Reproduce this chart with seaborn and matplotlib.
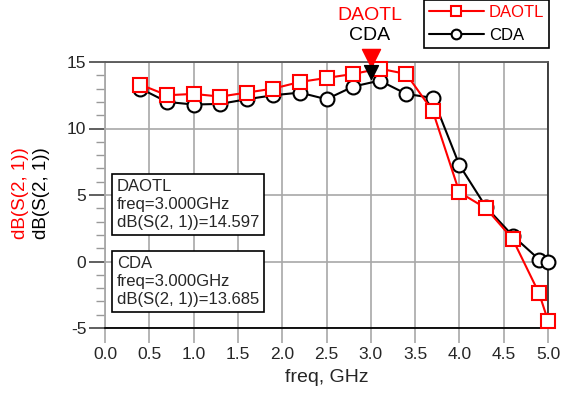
import numpy as np
import pandas as pd
import matplotlib
matplotlib.use("Agg")
import matplotlib.pyplot as plt
import seaborn as sns
from matplotlib.ticker import MultipleLocator, FormatStrFormatter
from matplotlib.path import Path

# S21 sweep
freq = [0.4, 0.7, 1.0, 1.3, 1.6, 1.9, 2.2, 2.5, 2.8, 3.1, 3.4, 3.7, 4.0, 4.3, 4.6, 4.9, 5.0]
daotl = [13.3, 12.5, 12.6, 12.4, 12.7, 13.0, 13.5, 13.8, 14.1, 14.5, 14.1, 11.3, 5.2, 4.0, 1.7, -2.4, -4.45]
cda = [13.0, 12.0, 11.8, 11.85, 12.2, 12.5, 12.7, 12.2, 13.15, 13.6, 12.6, 12.3, 7.25, 4.1, 1.95, 0.15, 0.0]

mark_freq = 3.0
daotl_mark = 14.597
cda_mark = 13.685

sns.set_style("white")
plt.rcParams['font.family'] = ['Liberation Sans', 'DejaVu Sans']
plt.rcParams['axes.unicode_minus'] = False

W, H = 573, 398
fig = plt.figure(figsize=(W / 100, H / 100), dpi=100)
ax = fig.add_axes([105 / W, 1 - 328 / H, 443 / W, 266 / H])

sns.lineplot(x=freq, y=cda, ax=ax, color='black', lw=1.5, marker='o', markersize=10,
             markerfacecolor='white', markeredgecolor='black', markeredgewidth=1.5,
             label='CDA', zorder=3, clip_on=False)
sns.lineplot(x=freq, y=daotl, ax=ax, color='red', lw=1.5, marker='s', markersize=10,
             markerfacecolor='white', markeredgecolor='red', markeredgewidth=1.5,
             label='DAOTL', zorder=4, clip_on=False)

# marker triangles, tip on the value
tri = Path([(0, 0), (-0.5, 1), (0.5, 1), (0, 0)], [1, 2, 2, 79])
ax.plot([mark_freq], [daotl_mark], marker=tri, ms=26, color='red', mec='red', ls='none',
        zorder=5, clip_on=False)
ax.plot([mark_freq], [cda_mark], marker=tri, ms=20, color='black', mec='black', ls='none',
        zorder=6, clip_on=False)
fig.text(370 / W, 1 - 16 / H, 'DAOTL', color='red', fontsize=14, ha='center', va='center')
fig.text(370 / W, 1 - 36 / H, 'CDA', color='black', fontsize=14, ha='center', va='center')

ax.set_xlim(0, 5)
ax.set_ylim(-5, 15)
ax.xaxis.set_major_locator(MultipleLocator(0.5))
ax.xaxis.set_major_formatter(FormatStrFormatter('%.1f'))
ax.yaxis.set_major_locator(MultipleLocator(5))
ax.yaxis.set_minor_locator(MultipleLocator(1))
ax.grid(True, which='major', color='#a8a8a8', lw=1.2)
ax.set_axisbelow(True)

ax.tick_params(axis='x', direction='out', length=11, width=1.2, color='#a8a8a8',
               labelsize=12.5, pad=3, bottom=True)
ax.tick_params(axis='y', which='major', direction='out', length=11.5, width=1.2,
               color='#444444', labelsize=12.5, pad=2, left=True)
ax.tick_params(axis='y', which='minor', direction='out', length=6.5, width=1.0,
               color='#999999', left=True)

ax.spines['left'].set_color('#a8a8a8')
ax.spines['top'].set_color('#555555')
ax.spines['right'].set_color('#333333')
ax.spines['bottom'].set_color('black')
for s in ax.spines.values():
    s.set_linewidth(1.3)

ax.set_xlabel('freq, GHz', fontsize=14, labelpad=5)
ax.set_ylabel('')
fig.text(21 / W, 1 - 193 / H, 'dB(S(2, 1))', color='red', fontsize=13.5, rotation=90,
         ha='center', va='center')
fig.text(42 / W, 1 - 193 / H, 'dB(S(2, 1))', color='black', fontsize=13.5, rotation=90,
         ha='center', va='center')

# readout boxes
box = dict(boxstyle='square,pad=0.28', fc='white', ec='black', lw=1.2)
fig.text(117 / W, 1 - 179 / H, 'DAOTL\nfreq=3.000GHz\ndB(S(2, 1))=%.3f' % daotl_mark,
         fontsize=12, ha='left', va='top', linespacing=1.25, bbox=box, zorder=10)
fig.text(117 / W, 1 - 256 / H, 'CDA\nfreq=3.000GHz\ndB(S(2, 1))=%.3f' % cda_mark,
         fontsize=12, ha='left', va='top', linespacing=1.25, bbox=box, zorder=10)

ax.get_legend().remove()
h, l = ax.get_legend_handles_labels()
leg = fig.legend(h[::-1], l[::-1], loc='upper right', bbox_to_anchor=(549 / W, 1.0),
                 frameon=True, fancybox=False, edgecolor='black', framealpha=1,
                 fontsize=12, labelcolor='linecolor', handlelength=3.3, handletextpad=0.3,
                 borderpad=0.3, labelspacing=0.45, markerscale=0.7, borderaxespad=0)
leg.get_frame().set_linewidth(1.2)

fig.savefig('out.png', dpi=100)
